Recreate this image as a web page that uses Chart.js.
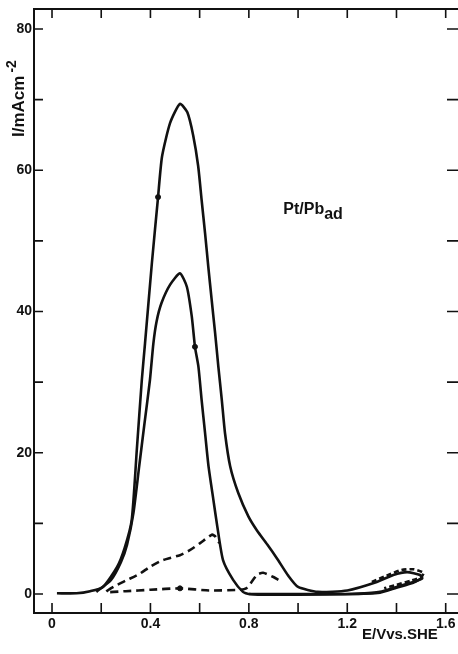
<!DOCTYPE html>
<html>
<head>
<meta charset="utf-8">
<script src="https://cdn.jsdelivr.net/npm/chart.js@4.4.1/dist/chart.umd.min.js"></script>
<style>
  html, body { margin: 0; padding: 0; background: #fff; }
  #wrap { width: 458px; height: 654px; }
</style>
</head>
<body>
<div id="wrap"><canvas id="cv" width="458" height="654"></canvas></div>
<script>
// E in V vs SHE, I in mA cm-2
const outerE = [0.02, 0.10, 0.155, 0.207, 0.264, 0.295, 0.324, 0.345, 0.365, 0.378, 0.406, 0.431, 0.447, 0.48, 0.52, 0.550, 0.574, 0.594, 0.608, 0.622, 0.635, 0.649, 0.663, 0.676, 0.690, 0.703, 0.724, 0.757, 0.798, 0.833, 0.875, 0.915, 0.96, 1.0, 1.08, 1.2, 1.32, 1.387, 1.443, 1.496, 1.505, 1.468, 1.40, 1.333, 1.22, 1.0, 0.85, 0.80];
const outerI = [0.1, 0.1, 0.4, 1.0, 3.8, 6.5, 10.5, 20.6, 30.3, 35.5, 46.9, 56.2, 61.9, 66.7, 69.4, 68.2, 64.9, 60.6, 55.8, 51.1, 46.4, 41.6, 36.9, 32.2, 27.5, 22.8, 18.1, 14.3, 11.0, 9.0, 7.0, 5.0, 2.6, 1.0, 0.3, 0.5, 1.7, 2.7, 3.1, 2.7, 2.2, 1.7, 1.0, 0.3, 0.0, -0.1, -0.1, 0.0];

const innerE = [0.18, 0.24, 0.28, 0.305, 0.331, 0.354, 0.376, 0.398, 0.412, 0.425, 0.445, 0.48, 0.52, 0.548, 0.568, 0.581, 0.595, 0.608, 0.622, 0.636, 0.656, 0.672, 0.695, 0.736, 0.776, 0.80, 1.0, 1.2, 1.333, 1.40, 1.468, 1.50];
const innerI = [0.3, 2.0, 4.5, 7.0, 11.5, 18.0, 24.2, 30.3, 35.5, 38.6, 41.2, 43.8, 45.4, 43.5, 39.3, 35.0, 32.2, 27.5, 22.8, 18.1, 13.3, 9.5, 4.8, 2.0, 0.3, 0.0, 0.0, 0.0, 0.2, 0.9, 1.6, 2.2];

const dashE = [0.92, 0.90, 0.858, 0.833, 0.79, 0.764, 0.64, 0.52, 0.40, 0.30, 0.22, 0.26, 0.30, 0.358, 0.40, 0.451, 0.52, 0.56, 0.602, 0.65, 0.665, 0.68];
const dashI = [2.0, 2.4, 3.0, 2.7, 0.8, 0.6, 0.5, 0.8, 0.6, 0.4, 0.3, 1.2, 1.9, 2.9, 3.9, 4.8, 5.5, 6.2, 7.2, 8.4, 8.1, 7.2];

const loopDashE = [1.30, 1.36, 1.42, 1.47, 1.51, 1.50, 1.46, 1.40, 1.35];
const loopDashI = [1.7, 2.6, 3.4, 3.5, 3.0, 2.4, 1.9, 1.3, 0.8];

const markE = [0.431, 0.581, 0.52];
const markI = [56.2, 35.0, 0.8];

const xTicks = [0, 0.4, 0.8, 1.2, 1.6];
const yTicks = [0, 20, 40, 60, 80];
const xMinor = [0, 0.2, 0.4, 0.6, 0.8, 1.0, 1.2, 1.4, 1.6];
const yMinor = [0, 10, 20, 30, 40, 50, 60, 70, 80];

const pts = (xs, ys) => xs.map((x, i) => ({ x, y: ys[i] }));

const ink = "#111";
const font = "'Liberation Sans', Arial, sans-serif";
const lineBase = { showLine: true, pointRadius: 0, borderColor: ink, borderWidth: 2.6, tension: 0.2, fill: false };

// frame, inward ticks, titles and the label
const framePlugin = {
  id: "frame",
  afterDraw(chart) {
    const { ctx, chartArea: a, scales } = chart;
    const sx = scales.x, sy = scales.y;
    ctx.save();
    ctx.strokeStyle = ink;
    ctx.lineWidth = 2;
    ctx.beginPath();
    ctx.moveTo(a.right, a.top); ctx.lineTo(a.left, a.top);
    ctx.lineTo(a.left, a.bottom); ctx.lineTo(a.right, a.bottom);
    ctx.stroke();
    ctx.lineWidth = 1.6;
    ctx.beginPath();
    xMinor.forEach((v) => {
      const px = sx.getPixelForValue(v);
      ctx.moveTo(px, a.bottom); ctx.lineTo(px, a.bottom - 10);
      ctx.moveTo(px, a.top); ctx.lineTo(px, a.top + 9);
    });
    yMinor.forEach((v) => {
      const py = sy.getPixelForValue(v);
      ctx.moveTo(a.left, py); ctx.lineTo(a.left + 9, py);
      ctx.moveTo(a.right, py); ctx.lineTo(a.right - 11, py);
    });
    ctx.stroke();

    ctx.fillStyle = ink;
    // y title, rotated
    ctx.save();
    ctx.translate(19, 137);
    ctx.rotate(-Math.PI / 2);
    ctx.font = "bold 17px " + font;
    ctx.textBaseline = "middle";
    ctx.textAlign = "left";
    ctx.fillText("I/mAcm", 0, 0);
    const w = ctx.measureText("I/mAcm").width;
    ctx.font = "bold 14px " + font;
    ctx.fillText("-2", w + 3, -7);
    ctx.restore();

    // x title
    ctx.font = "bold 15px " + font;
    ctx.textAlign = "left";
    ctx.textBaseline = "middle";
    ctx.fillText("E/Vvs.SHE", 362, 635);

    // sample label Pt/Pb(ad)
    const lx = sx.getPixelForValue(0.94), ly = sy.getPixelForValue(54.4);
    ctx.font = "bold 16px " + font;
    ctx.fillText("Pt/Pb", lx, ly);
    const w2 = ctx.measureText("Pt/Pb").width;
    ctx.fillText("ad", lx + w2, ly + 5);
    ctx.restore();
  }
};

new Chart(document.getElementById("cv"), {
  type: "scatter",
  data: {
    datasets: [
      { ...lineBase, label: "outer", data: pts(outerE, outerI) },
      { ...lineBase, label: "inner", data: pts(innerE, innerI) },
      { ...lineBase, label: "first sweep", data: pts(dashE, dashI), borderDash: [8, 5] },
      { ...lineBase, label: "loop", data: pts(loopDashE, loopDashI), borderDash: [5, 3] },
      { label: "marks", data: pts(markE, markI), showLine: false, pointRadius: 2.5, backgroundColor: ink, borderColor: ink }
    ]
  },
  options: {
    responsive: false,
    animation: false,
    layout: { autoPadding: false, padding: { top: 9, right: 0, left: 0, bottom: 0 } },
    plugins: { legend: { display: false }, tooltip: { enabled: false } },
    scales: {
      x: {
        type: "linear",
        min: -0.0732,
        max: 1.65,
        afterBuildTicks: (s) => { s.ticks = xTicks.map((v) => ({ value: v })); },
        afterFit: (s) => { s.height = 41; s.paddingLeft = 0; s.paddingRight = 0; },
        grid: { display: false, drawTicks: false },
        border: { display: false },
        ticks: {
          padding: 3,
          color: ink,
          font: { family: font, size: 14, weight: "bold" },
          callback: (v) => (v === 0 ? "0" : String(v))
        }
      },
      y: {
        type: "linear",
        min: -2.69,
        max: 82.83,
        afterBuildTicks: (s) => { s.ticks = yTicks.map((v) => ({ value: v })); },
        afterFit: (s) => { s.width = 34; s.paddingTop = 0; s.paddingBottom = 0; },
        grid: { display: false, drawTicks: false },
        border: { display: false },
        ticks: {
          padding: 2,
          color: ink,
          font: { family: font, size: 14, weight: "bold" }
        }
      }
    }
  },
  plugins: [framePlugin]
});
</script>
</body>
</html>
